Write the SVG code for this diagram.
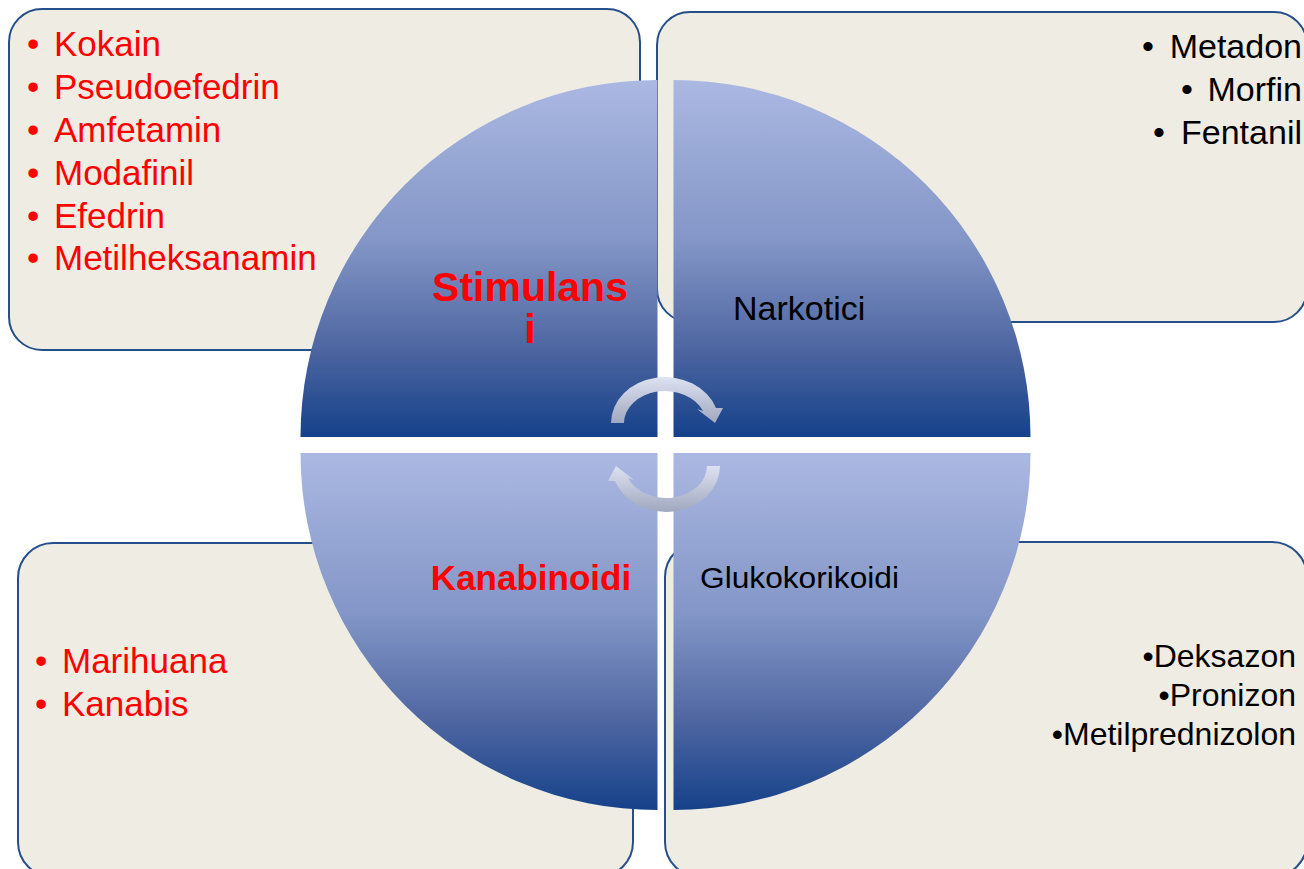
<svg xmlns="http://www.w3.org/2000/svg" width="1304" height="869" viewBox="0 0 1304 869">
<defs>
<linearGradient id="qg" x1="0" y1="0" x2="0" y2="1">
<stop offset="0" stop-color="#abb8e2"/>
<stop offset="0.45" stop-color="#8396c7"/>
<stop offset="0.75" stop-color="#4e66a1"/>
<stop offset="1" stop-color="#15418a"/>
</linearGradient>
<linearGradient id="ag" x1="0" y1="0" x2="0" y2="1">
<stop offset="0" stop-color="#dde2f1"/>
<stop offset="1" stop-color="#a0a8bf"/>
</linearGradient>
</defs>
<style>
.box{fill:#efece3;stroke:#244f8a;stroke-width:2}
.q{fill:url(#qg)}
.arr{fill:url(#ag)}
text{font-family:"Liberation Sans",Arial,sans-serif}
.red{fill:#ff0000;font-size:35px}
.blk{fill:#000;font-size:34px}
.br{fill:#000;font-size:32px}
.title{font-weight:bold;fill:#ff0000}
</style>
<rect width="1304" height="869" fill="#ffffff"/>

<g id="box-stimulansi">
<rect class="box" x="9" y="9" width="631" height="341" rx="33"/>
</g>
<g id="box-narkotici">
<rect class="box" x="657" y="12" width="650" height="310" rx="33"/>
</g>
<g id="box-kanabinoidi">
<rect class="box" x="18" y="543" width="615" height="334" rx="35"/>
</g>
<g id="box-glukokorikoidi">
<rect class="box" x="665" y="542" width="642" height="335" rx="35"/>
</g>

<g id="quadrant-stimulansi">
<path class="q" d="M657.5,437 L300.5,437 A357,357 0 0 1 657.5,80 Z"/>
<text class="title" font-size="41" text-anchor="middle"><tspan x="530" y="301">Stimulans</tspan><tspan x="530" y="343">i</tspan></text>
</g>
<g id="quadrant-narkotici">
<path class="q" d="M673.5,437 L673.5,80 A357,357 0 0 1 1030.5,437 Z"/>
<text class="blk" x="733" y="320" font-size="35">Narkotici</text>
</g>
<g id="quadrant-kanabinoidi">
<path class="q" d="M657.5,453 L657.5,810 A357,357 0 0 1 300.5,453 Z"/>
<text class="title" x="531" y="590" font-size="35" text-anchor="middle">Kanabinoidi</text>
</g>
<g id="quadrant-glukokorikoidi">
<path class="q" d="M673.5,453 L1030.5,453 A357,357 0 0 1 673.5,810 Z"/>
<text x="700" y="588" font-size="29" fill="#000" textLength="199" lengthAdjust="spacingAndGlyphs">Glukokorikoidi</text>
</g>

<g id="list-stimulansi" class="red">
<text><tspan x="27" y="56">•</tspan><tspan x="54" y="56">Kokain</tspan></text>
<text><tspan x="27" y="99">•</tspan><tspan x="54" y="99">Pseudoefedrin</tspan></text>
<text><tspan x="27" y="142">•</tspan><tspan x="54" y="142">Amfetamin</tspan></text>
<text><tspan x="27" y="185">•</tspan><tspan x="54" y="185">Modafinil</tspan></text>
<text><tspan x="27" y="228">•</tspan><tspan x="54" y="228">Efedrin</tspan></text>
<text><tspan x="27" y="270">•</tspan><tspan x="54" y="270">Metilheksanamin</tspan></text>
</g>

<g id="list-narkotici" class="blk">
<text x="1148" y="58" text-anchor="middle">•</text>
<text x="1302" y="58" text-anchor="end">Metadon</text>
<text x="1187" y="101" text-anchor="middle">•</text>
<text x="1302" y="101" text-anchor="end">Morfin</text>
<text x="1159" y="144" text-anchor="middle">•</text>
<text x="1302" y="144" text-anchor="end">Fentanil</text>
</g>

<g id="list-kanabinoidi" class="red">
<text><tspan x="35" y="673">•</tspan><tspan x="62" y="673">Marihuana</tspan></text>
<text><tspan x="35" y="716">•</tspan><tspan x="62" y="716">Kanabis</tspan></text>
</g>

<g id="list-glukokorikoidi" class="br" text-anchor="end">
<text x="1296" y="667">•Deksazon</text>
<text x="1296" y="706">•Pronizon</text>
<text x="1296" y="745">•Metilprednizolon</text>
</g>

<g id="connectors">
<path class="arr" d="M611,423 A54,46 0 0 1 716,408 L723,408 L715,423 L697,409 L703,411 A41,32 0 0 0 624,423 Z"/>
<path class="arr" d="M720,466 A54,46 0 0 1 615,481 L608,481 L616,466 L634,480 L628,478 A41,32 0 0 0 707,466 Z"/>
</g>
</svg>
